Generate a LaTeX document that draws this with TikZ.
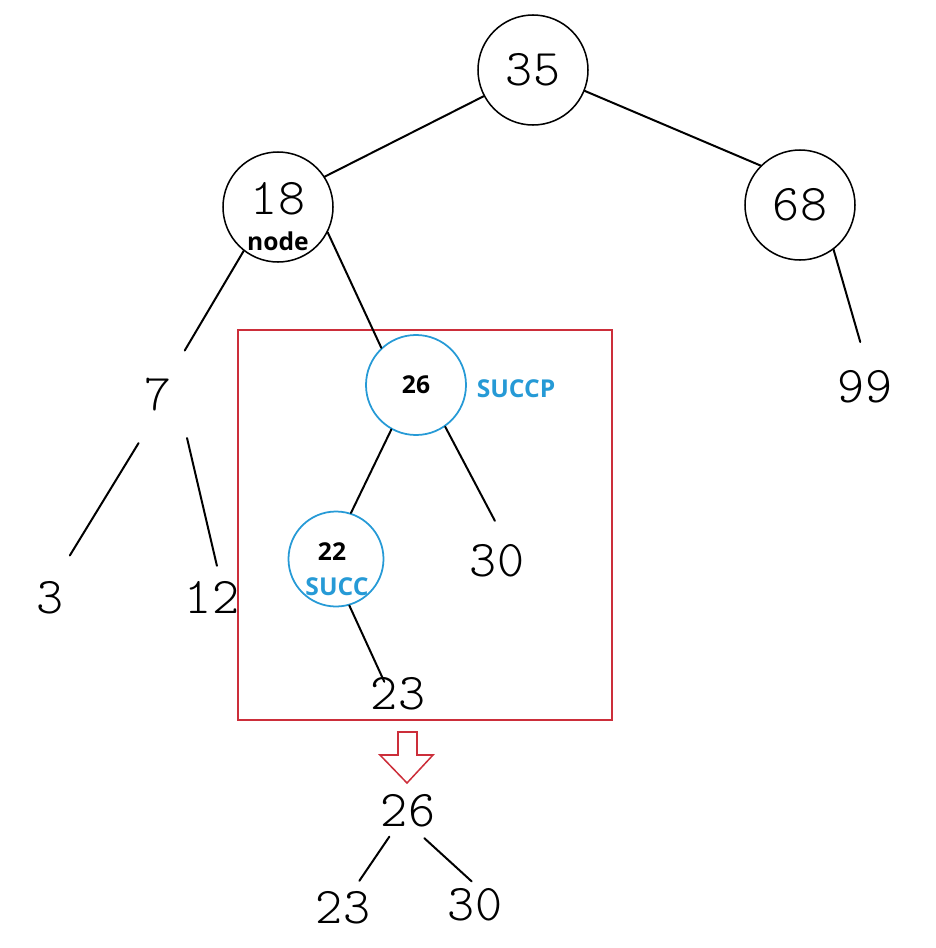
\documentclass[tikz,border=0pt]{standalone}
\usepackage{fontspec}
\newfontfamily\handfont{lmmonolt10-regular}[Extension=.otf]
\newfontfamily\tagfont{Open Sans}
\usepackage{tikz}
\usetikzlibrary{positioning}
\definecolor{succblue}{RGB}{38,154,214}
\definecolor{boxred}{RGB}{204,46,58}
\tikzstyle{edge} = [line width=1.7pt, line cap=round]
\tikzstyle{keynode} = [circle, draw=black, line width=1.3pt, minimum size=3.3cm, inner sep=0pt, font=\handfont\fontsize{44}{44}\selectfont]
\tikzstyle{hand} = [circle, inner sep=0pt, font=\handfont\fontsize{44}{44}\selectfont]
\tikzstyle{focus} = [circle, draw=succblue, line width=1.5pt, minimum size=3cm, inner sep=0pt, font=\tagfont\bfseries\fontsize{21}{21}\selectfont]
\tikzstyle{tag} = [inner sep=0pt, font=\tagfont\bfseries\fontsize{21}{21}\selectfont]

\begin{document}
\begin{tikzpicture}[x=0.03cm, y=-0.03cm]
\useasboundingbox (0,0) rectangle (936,948);
%----------------------------------------------------------------------------
% Placement of tree nodes
\node (n35) [keynode] at (533,70) {35};

\node (n18) [keynode] at (278,207) {};
\node (lbl18) [hand] at (278,199) {18};
\node (nodeTag) [tag] at (278,241) {node};

\node (n68) [keynode] at (800,205) {68};

\node (n7) [hand, minimum size=3.1cm] at (158,395) {7};
\node (n99) [hand, minimum size=2.7cm] at (865,387) {99};
\node (n3) [hand, minimum size=2.8cm] at (50,598) {3};
\node (n12) [hand] at (212,597) {12};

%----------------------------------------------------------------------------
% Subtree that gets replaced
\node (subBox) [draw=boxred, line width=1.3pt, minimum width=11.22cm, minimum height=11.7cm] at (425,525) {};

\node (n26) [focus] at (416,385) {26};
\node (succpTag) [tag, text=succblue] at (516,389) {SUCCP};

\node (n22) [focus, minimum size=2.85cm] at (336,559) {};
\node (lbl22) [tag] at (332,552) {22};
\node (succTag) [tag, text=succblue] at (337,587) {SUCC};

\node (n30) [hand, minimum size=2.4cm] at (497,561) {30};
\node (n23) [hand] at (398,694) {23};

%----------------------------------------------------------------------------
% Result after removal
\draw [boxred, line width=1.3pt, line join=miter]
  (398,732) -- (417,732) -- (417,755) -- (433,755) -- (407,783)
  -- (380,755) -- (398,755) -- cycle;

\node (r26) [hand] at (408,811) {26};
\node (r23) [hand] at (343,908) {23};
\node (r30) [hand] at (475,905) {30};

%----------------------------------------------------------------------------
% Drawing of edges
\draw [edge] (n35.208) -- (n18.33);
\draw [edge] (n35.-22) -- (n68.135);

\draw [edge] (n18.232) -- (n7.59);
\draw [edge] (n18.-27) -- (n26.133);
\draw [edge] (n68.-53) -- (n99.96);

\draw [edge] (n7.248) -- (n3.65);
\draw [edge] (n7.-56) -- (n12.81);

\draw [edge] (n26.241) -- (n22.72);
\draw [edge] (n26.-55) -- (n30.93);
\draw [edge, shorten >=-12pt] (n22.-74) -- (n23.128);

\draw [edge] (r26.234) -- (r23.59);
\draw [edge, shorten >=-8pt] (r26.-59) -- (r30.109);
\end{tikzpicture}
\end{document}
